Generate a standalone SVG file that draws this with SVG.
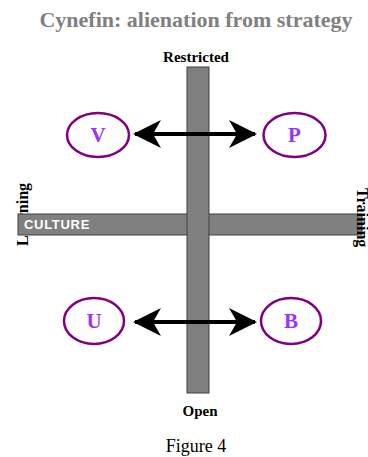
<svg xmlns="http://www.w3.org/2000/svg" width="368" height="457" viewBox="0 0 368 457">
  <style>
    .title { font-family: "Liberation Serif", "Times New Roman", serif; font-weight: bold; font-size: 22px; fill: #808080; }
    .axis { font-family: "Liberation Serif", "Times New Roman", serif; font-weight: bold; font-size: 15px; fill: #000; }
    .side { font-family: "Liberation Serif", "Times New Roman", serif; font-weight: bold; font-size: 16px; fill: #000; }
    .bar { fill: #808080; stroke: #404040; stroke-width: 1; }
    .barlabel { font-family: "Liberation Sans", Arial, sans-serif; font-weight: bold; font-size: 13px; letter-spacing: 0.7px; fill: #fff; }
    .node ellipse { fill: #fff; stroke: #800080; stroke-width: 2.5; }
    .node text { font-family: "Liberation Serif", "Times New Roman", serif; font-weight: bold; font-size: 21px; fill: #9933ff; text-anchor: middle; }
    .link { stroke: #000; stroke-width: 4; fill: none; marker-start: url(#head); marker-end: url(#head); }
    .caption { font-family: "Liberation Serif", "Times New Roman", serif; font-size: 18px; fill: #000; }
  </style>
  <defs>
    <marker id="head" viewBox="0 0 28 28" refX="26" refY="14" markerWidth="28" markerHeight="28" markerUnits="userSpaceOnUse" orient="auto-start-reverse">
      <path d="M28,14 L0,0 L8,14 L0,28 Z" fill="#000"/>
    </marker>
    <clipPath id="edgeClip">
      <rect x="207" y="240" width="5" height="140"/>
    </clipPath>
  </defs>

  <rect width="368" height="457" fill="#fff"/>

  <text class="title" x="196" y="27" text-anchor="middle">Cynefin: alienation from strategy</text>
  <text class="axis" x="196" y="62" text-anchor="middle">Restricted</text>
  <text class="axis" x="200" y="416" text-anchor="middle">Open</text>

  <!-- left label sits under the bar -->
  <text class="side" transform="translate(28,246) rotate(-90)">Learning</text>

  <!-- horizontal axis -->
  <g id="culture-bar">
    <rect class="bar" x="18" y="214" width="344" height="21"/>
    <text class="barlabel" x="24" y="229">CULTURE</text>
  </g>

  <!-- right label, past the bar end -->
  <text class="side" transform="translate(357,188) rotate(90)" font-size="14">Training</text>

  <!-- vertical axis -->
  <g id="vertical-bar">
    <rect class="bar" x="187" y="67" width="22" height="326"/>
    <text class="barlabel" clip-path="url(#edgeClip)" transform="translate(199,255) rotate(90)">STRUCTURE</text>
  </g>

  <!-- nodes -->
  <g id="node-V" class="node">
    <ellipse cx="98" cy="135" rx="31" ry="22"/>
    <text x="98" y="142">V</text>
  </g>
  <g id="node-P" class="node">
    <ellipse cx="294.5" cy="135" rx="31" ry="22"/>
    <text x="294.5" y="142">P</text>
  </g>
  <g id="node-U" class="node">
    <ellipse cx="94" cy="321" rx="30" ry="23"/>
    <text x="94" y="328">U</text>
  </g>
  <g id="node-B" class="node">
    <ellipse cx="291" cy="321" rx="30" ry="23"/>
    <text x="291" y="328">B</text>
  </g>

  <!-- connectors -->
  <g id="connectors">
    <line class="link" x1="135" y1="134" x2="255" y2="134"/>
    <line class="link" x1="135" y1="322" x2="255" y2="322"/>
  </g>

  <text class="caption" x="196" y="452" text-anchor="middle">Figure 4</text>
</svg>
